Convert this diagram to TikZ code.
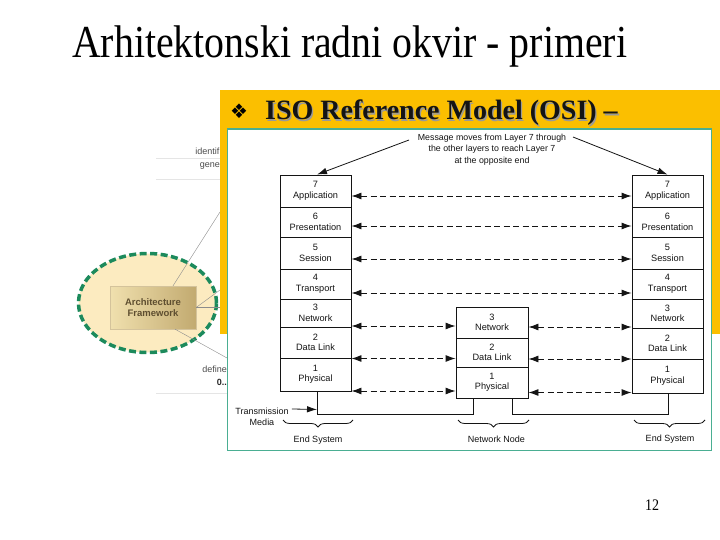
\documentclass[tikz,border=0pt]{standalone}
\usepackage{fontspec}
\setmainfont{Liberation Serif}
\setsansfont{Liberation Sans}
\newfontfamily\djv{DejaVu Sans}
\usetikzlibrary{arrows.meta,decorations.pathreplacing,calc,shapes.geometric}
\definecolor{osiyellow}{HTML}{FBBF00}
\definecolor{frameteal}{HTML}{4AAE92}
\definecolor{elldash}{HTML}{1C8A5C}
\definecolor{ellfill}{HTML}{FCEBC0}
\definecolor{afleft}{HTML}{F0E0AE}
\definecolor{afright}{HTML}{C2AA70}
\definecolor{aftext}{HTML}{5E4E30}
\definecolor{ink}{HTML}{141414}
\begin{document}
\begin{tikzpicture}[x=1pt,y=-1pt,
  cell/.style={draw=ink, line width=0.9pt, fill=white, minimum width=71pt, inner sep=0pt,
    align=center, font=\sffamily\fontsize{9.2}{10.5}\selectfont, text=ink},
  darr/.style={draw=ink, dash pattern=on 6pt off 3.5pt, line width=0.9pt,
    {Latex[length=10pt,width=7pt]}-{Latex[length=10pt,width=7pt]}},
  wire/.style={draw=ink, line width=0.9pt},
  sarr/.style={draw=ink, line width=0.8pt, -{Latex[length=10pt,width=6.5pt]}},
  lbl/.style={inner sep=1pt, align=center, font=\sffamily\fontsize{9}{11}\selectfont, text=ink},
  bgtxt/.style={inner sep=0pt, font=\sffamily\fontsize{9}{11}\selectfont, text=black!70},
  bgline/.style={draw=black!10, line width=0.6pt},
  thinline/.style={draw=black!45, line width=0.4pt},
  bracestyle/.style={draw=ink, line width=0.8pt, decorate, decoration={brace, mirror, amplitude=7pt}}
]
\useasboundingbox (0,0) rectangle (720,540);
\fill[white] (0,0) rectangle (720,540);

% main title
\node[anchor=base west, inner sep=0pt, font=\fontsize{39.8}{44}\selectfont] (title) at (72,58)
  {\scalebox{1}[1.15]{Arhitektonski radni okvir - primeri}};

% background figure on the left
\draw[bgline] (156,158) -- (220,158);
\draw[bgline] (156,179) -- (220,179);
\draw[bgline] (156,393) -- (227,393);
\node[bgtxt, anchor=base east] (t1) at (219.5,155) {identif};
\node[bgtxt, anchor=base east] (t2) at (220,168) {gene};
\node[bgtxt, anchor=base east] (t3) at (227,372) {define};
\node[bgtxt, anchor=base east, font=\sffamily\bfseries\fontsize{9}{11}\selectfont, text=black!85] (t4) at (227,385) {0..};
\node[ellipse, draw=elldash, fill=ellfill, line width=3.5pt, dash pattern=on 7pt off 3.5pt,
  minimum width=138pt, minimum height=99pt, inner sep=0pt] (ell) at (147.5,303) {};
\node[left color=afleft, right color=afright, draw=afright!70, line width=0.3pt,
  minimum width=86pt, minimum height=43pt, inner sep=0pt,
  font=\sffamily\bfseries\fontsize{9.5}{11.5}\selectfont, text=aftext, align=center] (af) at (153,307.5)
  {Architecture\\Framework};
\coordinate (e1) at (220,212);
\coordinate (e2) at (220,290);
\coordinate (e3) at (220,307.5);
\coordinate (e4) at (227,358);
\draw[thinline] ($(af.north)+(20,0)$) -- (e1);
\draw[thinline] (af.east) -- (e2);
\draw[thinline] (af.east) -- (e3);
\draw[thinline] ($(af.south)+(22,0)$) -- (e4);

% yellow panel
\fill[osiyellow] (219.5,90) rectangle (720,334);
\node[anchor=base west, inner sep=0pt, font=\bfseries\fontsize{28}{30}\selectfont, text=black!40] (headsh) at (266.3,121.3)
  {ISO Reference Model (OSI) –};
\node[anchor=base west, inner sep=0pt, font=\bfseries\fontsize{28}{30}\selectfont, text=ink] (head) at (265,120)
  {ISO Reference Model (OSI) –};
\node[inner sep=0pt, font=\djv\fontsize{20}{20}\selectfont] (bullet) at (239,111) {❖};

% white picture frame
\draw[frameteal, line width=1.5pt, fill=white] (227.5,129) rectangle (711.5,450.5);

% left end system
\node[cell, minimum height=32pt] (L7) at (315.5,191) {7\\Application};
\node[cell, minimum height=30pt] (L6) at (315.5,222) {6\\Presentation};
\node[cell, minimum height=32pt] (L5) at (315.5,253) {5\\Session};
\node[cell, minimum height=30pt] (L4) at (315.5,284) {4\\Transport};
\node[cell, minimum height=28pt] (L3) at (315.5,313) {3\\Network};
\node[cell, minimum height=31pt] (L2) at (315.5,342.5) {2\\Data Link};
\node[cell, minimum height=33pt] (L1) at (315.5,374.5) {1\\Physical};

% right end system
\node[cell, minimum height=32pt] (R7) at (667.5,191) {7\\Application};
\node[cell, minimum height=30pt] (R6) at (667.5,222) {6\\Presentation};
\node[cell, minimum height=32pt] (R5) at (667.5,253) {5\\Session};
\node[cell, minimum height=30pt] (R4) at (667.5,284) {4\\Transport};
\node[cell, minimum height=29pt] (R3) at (667.5,313.5) {3\\Network};
\node[cell, minimum height=31pt] (R2) at (667.5,343.5) {2\\Data Link};
\node[cell, minimum height=34pt] (R1) at (667.5,376) {1\\Physical};

% network node
\node[cell, minimum width=72pt, minimum height=31pt] (M3) at (492,322.5) {3\\Network};
\node[cell, minimum width=72pt, minimum height=29pt] (M2) at (492,352.5) {2\\Data Link};
\node[cell, minimum width=72pt, minimum height=31pt] (M1) at (492,382.5) {1\\Physical};

% peer arrows
\draw[darr] ([yshift=-5pt]L7.east) -- ([yshift=-5pt]R7.west);
\draw[darr] ([yshift=-4pt]L6.east) -- ([yshift=-4pt]R6.west);
\draw[darr] ([yshift=-6pt]L5.east) -- ([yshift=-6pt]R5.west);
\draw[darr] ([yshift=-9pt]L4.east) -- ([yshift=-9pt]R4.west);
\draw[darr] ([yshift=-13pt]L3.east) -- ([yshift=-3.5pt]M3.west);
\draw[darr] ([yshift=-4.5pt]M3.east) -- ([yshift=-13.5pt]R3.west);
\draw[darr] ([yshift=-16pt]L2.east) -- ([yshift=-6pt]M2.west);
\draw[darr] ([yshift=-6.5pt]M2.east) -- ([yshift=-15.5pt]R2.west);
\draw[darr] ([yshift=-16.5pt]L1.east) -- ([yshift=-8.5pt]M1.west);
\draw[darr] ([yshift=-10pt]M1.east) -- ([yshift=-16.5pt]R1.west);

% transmission media wiring
\coordinate (wl) at ($(L1.south)+(1.5,0)$);
\coordinate (wm1) at ($(M1.south)+(-19,0)$);
\coordinate (wm2) at ($(M1.south)+(20,0)$);
\coordinate (wr) at ($(R1.south)+(0.5,0)$);
\coordinate (wy) at (0,414);
\draw[wire] (wl) |- (wm1 |- wy) -- (wm1);
\draw[wire] (wm2) |- (wr |- wy) -- (wr);

\node[lbl] (tm) at (262,416.5) {Transmission\\Media};
\coordinate (tmx) at ($(wl)+(0,18)$);
\draw[sarr] ([xshift=2pt,yshift=7.5pt]tm.east) -- (tmx);

% braces and labels
\draw[bracestyle] (283,420) -- (353,420);
\draw[bracestyle] (458,420) -- (529,420);
\draw[bracestyle] (634,420) -- (705,420);
\node[lbl] (es1) at (318,440) {End System};
\node[lbl] (nn) at (496.5,439) {Network Node};
\node[lbl] (es2) at (670,439) {End System};

% message
\node[lbl, font=\sffamily\fontsize{8.8}{11.5}\selectfont] (msg) at (492,149.5)
  {Message moves from Layer 7 through\\the other layers to reach Layer 7\\at the opposite end};
\coordinate (msgL) at (409,140);
\coordinate (msgR) at (573,137);
\draw[sarr] (msgL) -- ([xshift=1.5pt]L7.north);
\draw[sarr] (msgR) -- (R7.north);

% page number
\node[inner sep=0pt, font=\fontsize{14}{14}\selectfont] (pg) at (652,505) {\scalebox{1}[1.15]{12}};
\end{tikzpicture}
\end{document}
